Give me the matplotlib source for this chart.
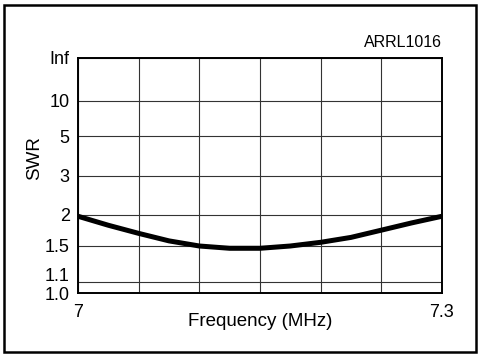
import numpy as np
import matplotlib
matplotlib.use("Agg")
import matplotlib.pyplot as plt
import matplotlib.transforms as mtransforms
from matplotlib.patches import Rectangle

plt.rcParams['font.family'] = ['Liberation Sans', 'DejaVu Sans']

# ── data ─────────────────────────────────────────────────────────────────────
freq_mhz = [7.0, 7.025, 7.05, 7.075, 7.1, 7.125, 7.15, 7.175, 7.2, 7.225, 7.25, 7.275, 7.3]
swr      = [1.97, 1.81, 1.68, 1.57, 1.50, 1.47, 1.47, 1.50, 1.55, 1.62, 1.73, 1.85, 1.97]

swr_ticks  = [1.0, 1.1, 1.5, 2.0, 3.0, 5.0, 10.0, np.inf]
swr_labels = ["1.0", "1.1", "1.5", "2", "3", "5", "10", "Inf"]
freq_grid  = [7.0, 7.05, 7.1, 7.15, 7.2, 7.25, 7.3]
freq_labels = ["7", "", "", "", "", "", "7.3"]


def rho(s):
    # SWR -> reflection coefficient, the chart's vertical scale
    s = np.asarray(s, dtype=float)
    return np.where(np.isinf(s), 1.0, (s - 1) / (s + 1))


W, H = 481, 357
fig = plt.figure(figsize=(W / 100, H / 100), dpi=100)
ax = fig.add_axes([78 / W, 1 - 293 / H, (442 - 78) / W, (293 - 58) / H])

ax.plot(freq_mhz, rho(swr), color='black', lw=3.6, solid_capstyle='butt',
        solid_joinstyle='round', zorder=3)

ax.set_xlim(7.0, 7.3)
ax.set_ylim(0, 1)
ax.set_xticks(freq_grid)
ax.set_xticklabels(freq_labels)
ax.set_yticks(rho(swr_ticks))
ax.set_yticklabels(swr_labels)
ax.tick_params(length=0, labelsize=13, pad=6)
ax.tick_params(axis='x', pad=8)
ax.grid(True, color='#333333', lw=0.8)
for sp in ax.spines.values():
    sp.set_linewidth(1.4)

# nudge the crowded 1.1 label up, as in the original
lbls = ax.get_yticklabels()
lbls[1].set_transform(lbls[1].get_transform() +
                      mtransforms.ScaledTranslation(0, 7 / 100, fig.dpi_scale_trans))

ax.set_xlabel("Frequency (MHz)", fontsize=13.5, labelpad=-6)
ax.set_ylabel("SWR", fontsize=13.5)
ax.yaxis.set_label_coords(-0.097, 0.574)
ax.text(1.0, 1.035, "ARRL1016", transform=ax.transAxes, ha='right', va='bottom', fontsize=11.5)

fig.patches.append(Rectangle((4 / W, 5 / H), (476 - 4) / W, (352 - 5) / H,
                             transform=fig.transFigure, fill=False, lw=1.8, color='black'))

fig.savefig("out.png", dpi=100)
